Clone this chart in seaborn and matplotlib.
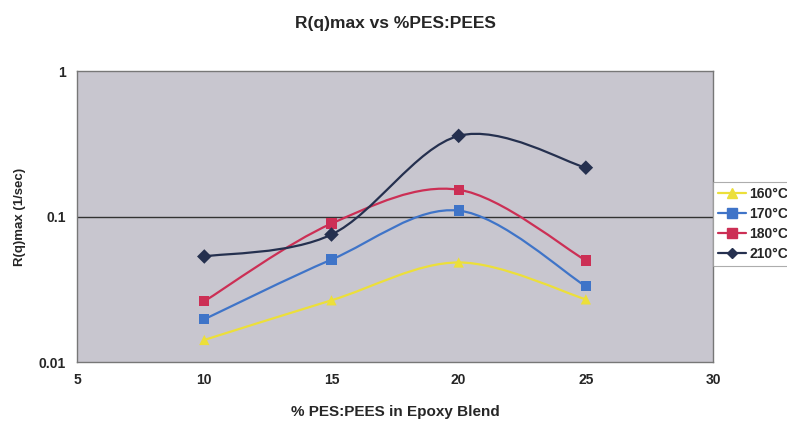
import numpy as np
import pandas as pd
import matplotlib
matplotlib.use("Agg")
import matplotlib.pyplot as plt
from matplotlib.path import Path
from matplotlib.patches import PathPatch
from matplotlib.lines import Line2D
import seaborn as sns

# -----------------------------
# Data
# -----------------------------
blend_pct = [10, 15, 20, 25]
temps = ["160°C", "170°C", "180°C", "210°C"]
rq_160 = [0.0142, 0.0266, 0.0484, 0.0270]
rq_170 = [0.0197, 0.0507, 0.110, 0.0332]
rq_180 = [0.0262, 0.0896, 0.153, 0.0500]
rq_210 = [0.0532, 0.0753, 0.359, 0.217]

colors = ["#ecdf3a", "#3f74c8", "#cc2f55", "#25304f"]
markers = ["^", "s", "s", "D"]
msizes = [6.5, 6.5, 6.5, 5.5]

rows = []
for t, vals in zip(temps, [rq_160, rq_170, rq_180, rq_210]):
    for x, v in zip(blend_pct, vals):
        rows.append({"pct": x, "rq": v, "temp": t})
df = pd.DataFrame(rows)

# -----------------------------
# Style
# -----------------------------
sns.set_style("white")
plt.rcParams["font.family"] = ["Liberation Sans", "DejaVu Sans"]
plt.rcParams["font.weight"] = "bold"

fig = plt.figure(figsize=(7.87, 4.26), dpi=100)
ax = fig.add_axes([0.098, 0.150, 0.808, 0.683])
ax.set_facecolor("#c8c6cf")
ax.set_yscale("log")


def smooth_path(xs, ys):
    # Excel-style smoothed line: Catmull-Rom as cubic Beziers in (x, log y)
    pts = np.column_stack([np.asarray(xs, float), np.log10(ys)])
    n = len(pts)
    verts = [pts[0]]
    codes = [Path.MOVETO]
    for i in range(n - 1):
        p0 = pts[max(i - 1, 0)]
        p1 = pts[i]
        p2 = pts[i + 1]
        p3 = pts[min(i + 2, n - 1)]
        c1 = p1 + (p2 - p0) / 6.0
        c2 = p2 - (p3 - p1) / 6.0
        verts += [c1, c2, p2]
        codes += [Path.CURVE4] * 3
    verts = np.array(verts)
    verts[:, 1] = 10 ** verts[:, 1]
    return Path(verts, codes)


for t, c in zip(temps, colors):
    sub = df[df["temp"] == t]
    patch = PathPatch(smooth_path(sub["pct"], sub["rq"]), facecolor="none",
                      edgecolor=c, lw=1.6, zorder=3)
    ax.add_patch(patch)

sns.scatterplot(data=df, x="pct", y="rq", hue="temp", style="temp",
                palette=dict(zip(temps, colors)),
                markers=dict(zip(temps, markers)),
                s=55, edgecolor="none", legend=False, ax=ax, zorder=4)

ax.set_xlim(5, 30)
ax.set_ylim(0.01, 1)
ax.set_xticks([5, 10, 15, 20, 25, 30])
ax.set_yticks([0.01, 0.1, 1])
ax.set_yticklabels(["0.01", "0.1", "1"])
ax.yaxis.set_minor_locator(matplotlib.ticker.NullLocator())
ax.axhline(0.1, color="#333333", lw=1.0, zorder=2)

for s in ax.spines.values():
    s.set_color("#777777")
    s.set_linewidth(1.0)
ax.tick_params(axis="both", which="major", direction="out", length=4,
               width=0.8, color="#555555", labelsize=10, pad=4)
for lbl in ax.get_xticklabels() + ax.get_yticklabels():
    lbl.set_fontweight("bold")

ax.set_xlabel("% PES:PEES in Epoxy Blend", fontsize=11, fontweight="bold", labelpad=13)
ax.set_ylabel("R(q)max (1/sec)", fontsize=9.5, fontweight="bold", labelpad=9)
ax.set_title("R(q)max vs %PES:PEES", fontsize=12.5, fontweight="bold", pad=31)

handles = [Line2D([0], [0], color=c, lw=1.6, marker=m, markersize=ms,
                  markeredgecolor=c)
           for c, m, ms in zip(colors, markers, msizes)]
leg = fig.legend(handles, temps, loc="upper left", bbox_to_anchor=(0.906, 0.572),
                 frameon=True, fontsize=10, handlelength=2.0, handletextpad=0.25,
                 borderpad=0.35, labelspacing=0.42, borderaxespad=0, fancybox=False)
leg.get_frame().set_edgecolor("#999999")
leg.get_frame().set_linewidth(0.8)
for txt in leg.get_texts():
    txt.set_fontweight("bold")

fig.savefig("out.png", dpi=100)
